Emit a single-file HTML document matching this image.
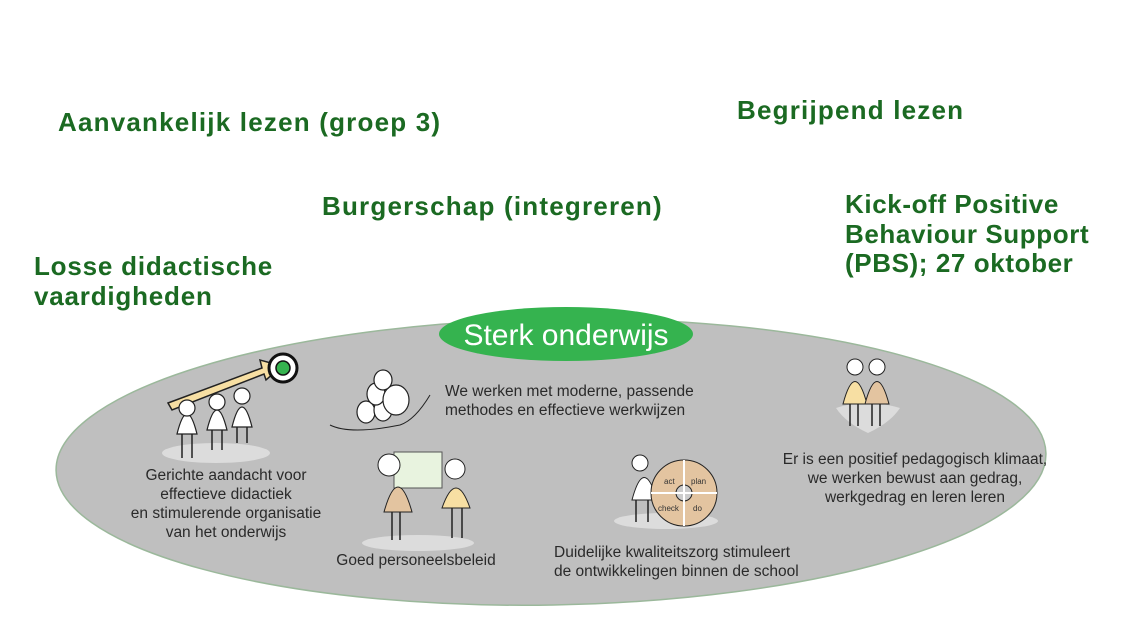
<!DOCTYPE html>
<html><head><meta charset="utf-8"><style>
body{margin:0;width:1127px;height:632px;background:#fff;position:relative;overflow:hidden;font-family:"Liberation Sans",sans-serif}
.h{position:absolute;color:#1b6a22;font-weight:bold;font-size:26px;line-height:29.5px;letter-spacing:1.2px;white-space:nowrap}
.t{position:absolute;color:#2a2a2a;font-size:15.5px;line-height:19px;text-align:center;white-space:nowrap;font-family:"Liberation Sans Narrow","Liberation Sans",sans-serif}
</style></head><body>
<div class="h" style="left:58px;top:108px">Aanvankelijk lezen (groep 3)</div>
<div class="h" style="left:737px;top:96px">Begrijpend lezen</div>
<div class="h" style="left:322px;top:192px">Burgerschap (integreren)</div>
<div class="h" style="left:845px;top:190px;letter-spacing:0.6px">Kick-off Positive<br>Behaviour Support<br>(PBS); 27 oktober</div>
<div class="h" style="left:34px;top:252px;letter-spacing:0.8px">Losse didactische<br>vaardigheden</div>
<svg width="1127" height="632" style="position:absolute;left:0;top:0">
<ellipse cx="551" cy="462" rx="495" ry="143" fill="#bfbfbf" stroke="#9bb89b" stroke-width="1.5" transform="rotate(-1 551 462)"/>
<ellipse cx="566" cy="334" rx="127" ry="27" fill="#35b34f"/>
<text x="566" y="345" text-anchor="middle" fill="#fff" font-size="30" font-family="Liberation Sans Narrow, Liberation Sans, sans-serif">Sterk onderwijs</text>
<!-- left figure -->
<ellipse cx="216" cy="453" rx="54" ry="10" fill="#dcdcdc"/>
<polygon points="168,403 262,368 260,360 282,366 266,380 264,374 172,410" fill="#f7dfa3" stroke="#222" stroke-width="1.5"/>
<circle cx="283" cy="368" r="14" fill="#fff" stroke="#111" stroke-width="3"/><circle cx="283" cy="368" r="7" fill="#35b34f" stroke="#111" stroke-width="1.5"/>
<g stroke="#222" stroke-width="1.5"><path d="M182,432v26M192,432v26M212,428v22M222,428v22M237,425v18M247,425v18"/></g>
<g fill="#fff" stroke="#222" stroke-width="1.2">
<path d="M177,434 q10,-40 20,0 z"/><circle cx="187" cy="408" r="8"/>
<path d="M207,430 q10,-40 20,0 z"/><circle cx="217" cy="402" r="8"/>
<path d="M232,427 q10,-40 20,0 z"/><circle cx="242" cy="396" r="8"/>
</g>
<!-- eggs -->
<g fill="#fff" stroke="#222" stroke-width="1.2">
<ellipse cx="366" cy="412" rx="9" ry="11"/><ellipse cx="383" cy="410" rx="9" ry="11"/><ellipse cx="376" cy="394" rx="9" ry="11"/><ellipse cx="396" cy="400" rx="13" ry="15"/><ellipse cx="383" cy="380" rx="9" ry="10"/>
</g>
<path d="M330,425 q20,10 70,0 q15,-5 30,-30" fill="none" stroke="#222"/>
<!-- personnel -->
<ellipse cx="418" cy="543" rx="56" ry="8" fill="#dcdcdc"/>
<g stroke="#222" stroke-width="1.5"><path d="M392,512v28M400,512v28M452,508v30M462,508v30"/></g>
<rect x="394" y="452" width="48" height="36" fill="#e8f3df" stroke="#555"/>
<path d="M384,512 q14,-50 28,0 z" fill="#e3c4a0" stroke="#222"/><circle cx="389" cy="465" r="11" fill="#fff" stroke="#222"/>
<path d="M442,508 q14,-40 28,0 z" fill="#f7dfa3" stroke="#222"/><circle cx="455" cy="469" r="10" fill="#fff" stroke="#222"/>
<!-- pdca -->
<ellipse cx="666" cy="521" rx="52" ry="8" fill="#dcdcdc"/>
<g stroke="#222" stroke-width="1.5"><path d="M636,500v22M648,500v22"/></g>
<path d="M632,500 q12,-45 25,0 z" fill="#fff" stroke="#222"/><circle cx="640" cy="463" r="8" fill="#fff" stroke="#222"/>
<circle cx="684" cy="493" r="33" fill="#e3c4a0" stroke="#222"/><circle cx="684" cy="493" r="8" fill="#ccc" stroke="#222"/>
<path d="M684,460v66M651,493h66" stroke="#fff" stroke-width="2"/>
<g font-size="8" fill="#333" font-family="Liberation Sans"><text x="664" y="484">act</text><text x="691" y="484">plan</text><text x="658" y="511">check</text><text x="693" y="511">do</text></g>
<!-- pair -->
<path d="M836,408 q30,-10 64,0 q-10,15 -32,25 q-22,-10 -32,-25z" fill="#dcdcdc"/>
<g stroke="#222" stroke-width="1.5"><path d="M850,404v22M858,404v22M872,404v22M880,404v22"/></g>
<path d="M843,404 q12,-45 24,0z" fill="#f7dfa3" stroke="#222"/><circle cx="855" cy="367" r="8" fill="#fff" stroke="#222"/>
<path d="M865,404 q12,-45 24,0z" fill="#e3c4a0" stroke="#222"/><circle cx="877" cy="367" r="8" fill="#fff" stroke="#222"/>
</svg>
<div class="t" style="left:126px;top:466px;width:200px">Gerichte aandacht voor<br>effectieve didactiek<br>en stimulerende organisatie<br>van het onderwijs</div>
<div class="t" style="left:445px;top:382px;text-align:left">We werken met moderne, passende<br>methodes en effectieve werkwijzen</div>
<div class="t" style="left:336px;top:551px;width:160px">Goed personeelsbeleid</div>
<div class="t" style="left:554px;top:543px;text-align:left">Duidelijke kwaliteitszorg stimuleert<br>de ontwikkelingen binnen de school</div>
<div class="t" style="left:770px;top:450px;width:290px">Er is een positief pedagogisch klimaat,<br>we werken bewust aan gedrag,<br>werkgedrag en leren leren</div>
</body></html>
